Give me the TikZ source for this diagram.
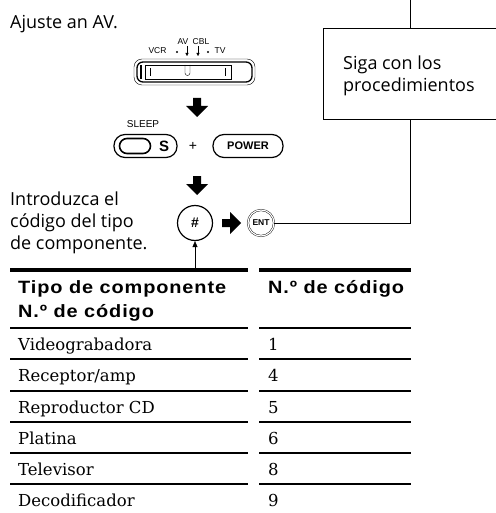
\documentclass[tikz,border=0pt]{standalone}
\usepackage{fontspec}
\setmainfont{DejaVu Serif}
\newfontfamily\instrfont{Open Sans}
\newfontfamily\helvfont{Liberation Sans}
\newfontfamily\headfont[LetterSpace=5,FakeStretch=1.12]{Liberation Sans}
\usetikzlibrary{arrows.meta,positioning}

\tikzset{
  instr/.style={font=\instrfont\fontsize{18}{22}\selectfont, inner sep=0pt, anchor=base west, align=left},
  swlabel/.style={font=\helvfont\fontsize{8.5}{10}\selectfont, inner sep=0pt, anchor=base},
  keytext/.style={font=\helvfont\bfseries\fontsize{11}{12}\selectfont, inner sep=0pt},
  headtext/.style={font=\headfont\bfseries\fontsize{17.8}{24}\selectfont, inner sep=0pt, anchor=base west, align=left},
  celltext/.style={font=\fontsize{16.5}{20}\selectfont, inner sep=0pt, anchor=base west},
  thinrule/.style={line width=1.2pt},
  thickrule/.style={line width=4.5pt},
  blockdown/.pic={\fill (-4,0) -- (4,0) -- (4,8) -- (11,8) -- (0,19) -- (-11,8) -- (-4,8) -- cycle;}
}

\begin{document}
\begin{tikzpicture}[x=1pt,y=-1pt]
\useasboundingbox (0,0) rectangle (495,513);

\node[instr] (ajuste) at (10,29) {Ajuste an AV.};

\node[swlabel] (vcr) at (157.5,54) {VCR};
\node[swlabel] (av) at (183,45) {AV};
\node[swlabel] (cbl) at (201,45) {CBL};
\node[swlabel] (tv) at (220,54) {TV};
\fill (177,52) circle (1.1);
\fill (208,52) circle (1.1);
\draw[-{Triangle[length=3pt,width=3pt]}] (187,46) -- (187,56);
\draw[-{Triangle[length=3pt,width=3pt]}] (198,46) -- (198,56);

\draw[rounded corners=8] (134,59) rectangle (255,85);
\draw[line width=1.3pt, rounded corners=6] (137,62) rectangle (252,82);
\draw[line width=2pt] (141,65) -- (141,79);
\draw (145,65) rectangle (231,79);
\draw (150,68) -- (150,76);
\draw (225,68) -- (225,76);
\draw (185,65) -- (185,73) arc (180:0:2.5) -- (190,65);

\pic at (197,98) {blockdown};

\node[font=\helvfont\fontsize{10}{12}\selectfont, inner sep=0pt, anchor=base] (sleep) at (143,128) {SLEEP};
\node[draw, line width=1.2pt, rounded corners=11, minimum width=63, minimum height=23] (sbtn) at (145.5,146) {};
\node[draw, line width=1.6pt, rounded corners=7.5, minimum width=31, minimum height=15, inner sep=0pt] (spill) at (135,146) {};
\node[keytext, font=\helvfont\bfseries\fontsize{15}{16}\selectfont] (skey) at (164,146) {S};
\node[font=\helvfont\fontsize{14}{16}\selectfont, inner sep=0pt] (plus) at (193,146) {+};
\node[keytext, draw, line width=1.2pt, rounded corners=11, minimum width=70, minimum height=23] (power) at (248,146) {POWER};

\pic at (197,176) {blockdown};

\node[instr] (intro) at (10,249) {Introduzca el\\código del tipo\\de componente.};

\node[circle, draw, line width=1.2pt, minimum size=35, inner sep=0pt, font=\helvfont\bfseries\fontsize{14}{14}\selectfont] (hash) at (195,223) {\#};
\pic[rotate=90] at (222,223) {blockdown};
\node[circle, draw, double, double distance=1.2pt, minimum size=26, inner sep=0pt, font=\helvfont\bfseries\fontsize{8.5}{9}\selectfont] (ent) at (261,223) {ENT};

\draw[line width=1pt] (323,29) rectangle (500,120);
\node[instr] (siga) at (343,92) {Siga con los\\procedimientos};
\coordinate (top) at (410,0);
\coordinate (bend) at (410,223);
\coordinate (boxtop) at (410,29);
\coordinate (boxfoot) at (410,120);
\draw (top) -- (boxtop);
\draw (boxfoot) -- (bend) -- (ent);

\coordinate (hashfoot) at (195,268);
\draw[-{Triangle[length=6pt,width=5pt]}] (hashfoot) -- (hash);

\draw[thickrule] (10,270) -- (248,270);
\draw[thickrule] (259,270) -- (411,270);
\node[headtext] (headtipo) at (18,317) {Tipo de componente\\N.º de código};
\node[headtext] (headnum) at (268,293) {N.º de código};

\draw[thinrule] (10,328) -- (248,328);
\draw[thinrule] (259,328) -- (411,328);
\node[celltext] (video) at (18,350) {Videograbadora};
\node[celltext] (videonum) at (268,350) {1};
\draw[thinrule] (10,359) -- (248,359);
\draw[thinrule] (259,359) -- (411,359);
\node[celltext] (recep) at (18,381) {Receptor/amp};
\node[celltext] (recepnum) at (268,381) {4};
\draw[thinrule] (10,391) -- (248,391);
\draw[thinrule] (259,391) -- (411,391);
\node[celltext] (cd) at (18,413) {Reproductor CD};
\node[celltext] (cdnum) at (268,413) {5};
\draw[thinrule] (10,422) -- (248,422);
\draw[thinrule] (259,422) -- (411,422);
\node[celltext] (platina) at (18,444) {Platina};
\node[celltext] (platinanum) at (268,444) {6};
\draw[thinrule] (10,453) -- (248,453);
\draw[thinrule] (259,453) -- (411,453);
\node[celltext] (tele) at (18,475) {Televisor};
\node[celltext] (telenum) at (268,475) {8};
\draw[thinrule] (10,484) -- (248,484);
\draw[thinrule] (259,484) -- (411,484);
\node[celltext] (deco) at (18,506) {Decodificador};
\node[celltext] (deconum) at (268,506) {9};
\end{tikzpicture}
\end{document}
